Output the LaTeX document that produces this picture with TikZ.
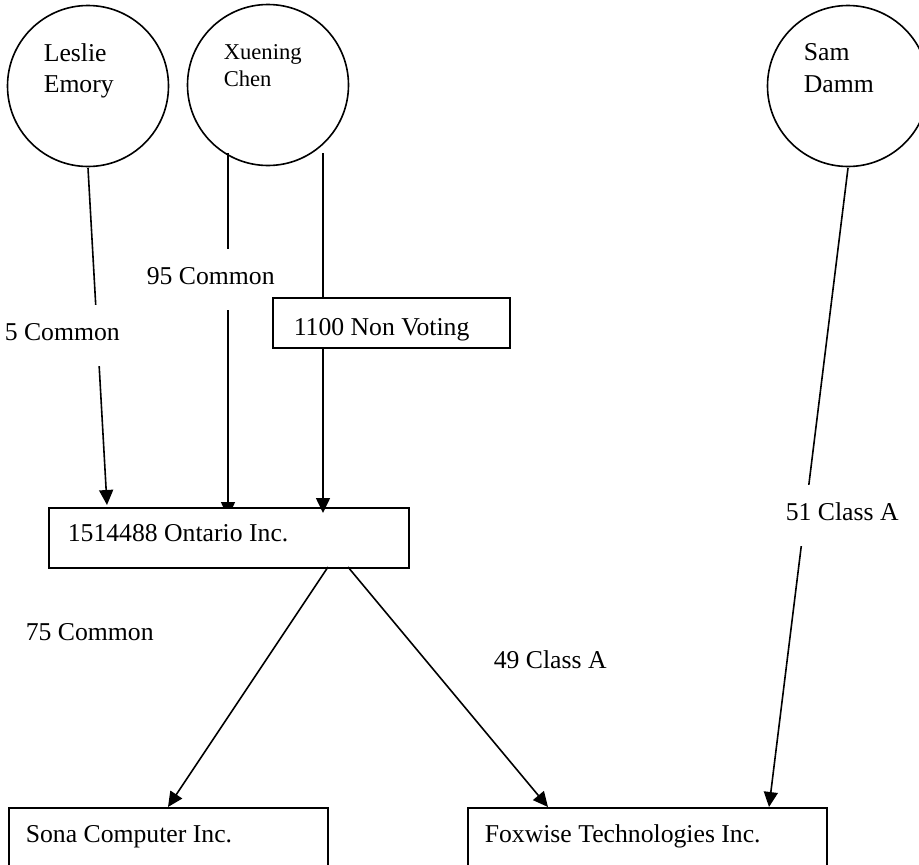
\documentclass[tikz,border=0pt]{standalone}
\usepackage{fontspec}
\setmainfont{Liberation Serif}
\usetikzlibrary{arrows.meta}
\begin{document}
\begin{tikzpicture}[x=1pt,y=-1pt,
  line width=1.6pt,
  conn/.style={-{Triangle[length=15pt,width=14pt]}},
  person/.style={draw, circle, minimum size=161pt, inner sep=0pt},
  boxnode/.style={draw, fill=white, rectangle, inner sep=0pt, anchor=north west},
  txt/.style={anchor=base west, inner sep=0pt, font=\fontsize{25.7}{31}\selectfont},
  smalltxt/.style={anchor=base west, inner sep=0pt, font=\fontsize{22.6}{27}\selectfont},
  lbl/.style={txt, fill=white, text height=35pt, text depth=26pt},
]
\useasboundingbox (0,0) rectangle (919,865);
\clip (0,0) rectangle (919,865);

% people
\node[person] (leslie) at (88,86) {};
\node[txt] (leslieA) at (43,61) {Leslie};
\node[txt] (leslieB) at (43,92) {Emory};
\node[person] (xuening) at (268,85) {};
\node[smalltxt] (xueA) at (223,59) {Xuening};
\node[smalltxt] (xueB) at (223,86) {Chen};
\node[person] (sam) at (848,86) {};
\node[txt] (samA) at (803,60) {Sam};
\node[txt] (samB) at (803,92) {Damm};

% connector end points
\coordinate (le1) at (88,168);
\coordinate (le2) at (107,505);
\coordinate (xl1) at (228,153);
\coordinate (xl2) at (228,517);
\coordinate (xr1) at (323,153);
\coordinate (xr2) at (323,513);
\coordinate (sa1) at (848,168);
\coordinate (sa2) at (769,807);
\coordinate (os1) at (328,567);
\coordinate (os2) at (168,807);
\coordinate (of1) at (348,567);
\coordinate (of2) at (548,807);

% arrows under the Ontario box
\draw[conn] (le1) -- (le2);
\draw[conn] (xl1) -- (xl2);

% Ontario box
\node[boxnode, minimum width=360pt, minimum height=60pt] (ont) at (48,507) {};
\node[txt] (ontT) at (67,541) {1514488 Ontario Inc.};

% arrow over the Ontario box
\draw[conn] (xr1) -- (xr2);

% labels that interrupt connectors
\node[lbl] (l5) at (4,340) {5 Common};
\node[lbl] (l95) at (146,284) {95 Common};

% non voting box
\node[boxnode, minimum width=237pt, minimum height=50pt] (nv) at (272,297) {};
\begin{scope}
  \clip (272,297) rectangle (509,340);
  \node[txt] (nvT) at (293,335) {1100 Non Voting};
\end{scope}

% other arrows
\draw[conn] (sa1) -- (sa2);
\draw[conn] (os1) -- (os2);
\draw[conn] (of1) -- (of2);

% bottom boxes
\node[boxnode, minimum width=319pt, minimum height=80pt] (sona) at (8,807) {};
\node[txt] (sonaT) at (25,842) {Sona Computer Inc.};
\node[boxnode, minimum width=359pt, minimum height=80pt] (fox) at (467,807) {};
\node[txt] (foxT) at (484,842) {Foxwise Technologies Inc.};

% other labels
\node[lbl] (l51) at (785,520) {51 Class A};
\node[txt] (l75) at (25,640) {75 Common};
\node[txt] (l49) at (493,668) {49 Class A};
\end{tikzpicture}
\end{document}
